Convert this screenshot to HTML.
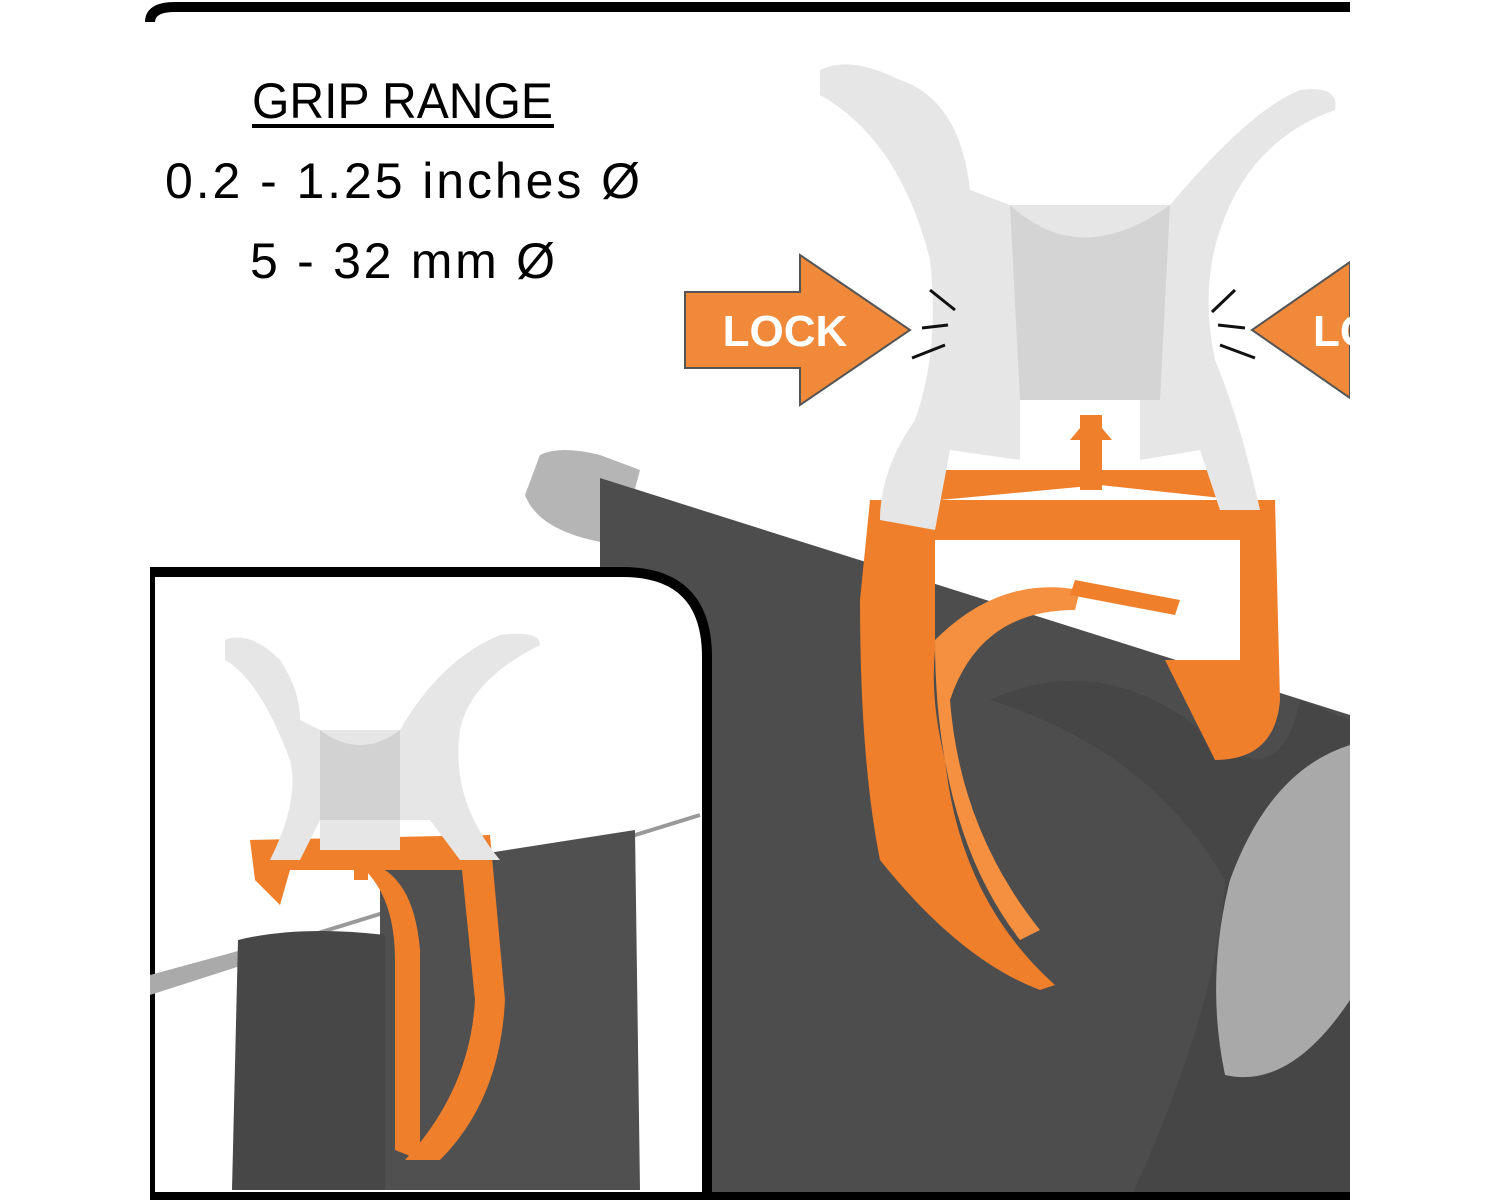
<!DOCTYPE html>
<html><head><meta charset="utf-8"><style>
html,body{margin:0;padding:0;background:#fff;}
svg{display:block;}
</style></head><body>
<svg width="1500" height="1200" viewBox="0 0 1500 1200" xmlns="http://www.w3.org/2000/svg">
<rect width="1500" height="1200" fill="#fff"/>
<defs><clipPath id="c"><rect x="150" y="0" width="1200" height="1200"/></clipPath></defs>
<g clip-path="url(#c)">
<!-- pole cap -->
<path d="M540 455 Q560 445 600 455 L640 470 L620 545 Q540 535 525 495 Z" fill="#b5b5b5"/>
<!-- big fabric -->
<path d="M600 478 L1350 715 L1350 1200 L600 1200 Z" fill="#4d4d4d"/>
<path d="M990 700 Q1100 650 1200 730 Q1280 800 1300 700 L1350 720 L1350 1200 L1130 1200 Q1220 1000 1225 880 Q1150 750 990 700 Z" fill="#464646"/>
<path d="M1230 880 Q1270 770 1350 745 L1350 1000 Q1290 1090 1225 1075 Q1205 980 1230 880 Z" fill="#a9a9a9"/>
<!-- big orange clip -->
<path d="M870 500 L1275 500 L1280 700 Q1275 760 1215 760 L1165 660 L1240 660 L1240 540 L935 540 L935 650 Q930 700 945 760 Q960 900 1055 985 L1040 990 Q960 960 880 860 Q860 760 860 600 Z" fill="#f07f2c"/>
<path d="M935 640 Q1000 575 1080 590 L1075 610 Q980 610 950 700 Q960 830 1040 930 L1020 940 Q935 830 935 640 Z" fill="#f59040"/>
<path d="M940 470 L1250 470 L1240 500 L1100 485 L940 500 Z" fill="#f07f2c"/>
<rect x="1080" y="415" width="22" height="75" fill="#f07f2c"/>
<path d="M1070 440 L1091 415 L1112 440 Z" fill="#f07f2c"/>
<path d="M1075 580 L1180 600 L1175 615 L1070 595 Z" fill="#f07f2c"/>
<!-- big white top -->
<path d="M820 70 Q850 55 900 80 Q960 100 970 190 L1010 205 L1170 205 Q1250 110 1300 90 Q1340 85 1335 110 Q1250 140 1220 230 Q1200 290 1215 360 Q1240 420 1260 510 L1220 510 L1200 450 L1140 460 L1140 400 L1020 400 L1020 460 L950 450 L935 530 L880 520 Q880 470 915 420 Q940 350 930 260 Q900 140 820 95 Z" fill="#e6e6e6"/>
<path d="M1010 205 Q1080 270 1170 205 L1160 400 L1020 400 Z" fill="#d4d4d4"/>
<!-- lock arrows -->
<path d="M685 292 L800 292 L800 255 L910 330 L800 405 L800 368 L685 368 Z" fill="#f08a3a" stroke="#555" stroke-width="2"/>
<text x="785" y="346" font-family="Liberation Sans, sans-serif" font-weight="bold" font-size="44" fill="#fff" text-anchor="middle">LOCK</text>
<path d="M1252 330 L1350 262 L1350 398 Z" fill="#f08a3a" stroke="#555" stroke-width="2"/>
<text x="1313" y="346" font-family="Liberation Sans, sans-serif" font-weight="bold" font-size="44" fill="#fff">LO</text>
<g stroke="#111" stroke-width="3"><line x1="930" y1="290" x2="955" y2="310"/><line x1="922" y1="328" x2="948" y2="325"/><line x1="912" y1="358" x2="945" y2="345"/><line x1="1235" y1="290" x2="1212" y2="312"/><line x1="1245" y1="328" x2="1218" y2="325"/><line x1="1255" y1="358" x2="1220" y2="345"/></g>
<!-- inset box -->
<path d="M150 572 L622 572 Q707 572 707 657 L707 1200 L150 1200 Z" fill="#fff" stroke="#000" stroke-width="10"/>
<line x1="150" y1="985" x2="700" y2="815" stroke="#999" stroke-width="4"/>
<path d="M150 975 L260 945 L265 958 L150 995 Z" fill="#aaa"/>
<path d="M380 870 L635 830 L640 1190 L380 1190 Z" fill="#505050"/>
<path d="M238 940 Q300 925 385 935 L385 1190 L232 1190 Z" fill="#474747"/>
<!-- small orange clip -->
<path d="M250 840 L490 835 L505 1000 Q500 1100 440 1160 L405 1160 Q470 1090 475 1000 L462 870 L290 870 L280 905 L255 880 Z" fill="#f07f2c"/>
<path d="M365 870 Q395 900 395 960 L395 1150 L420 1160 L420 950 Q415 890 385 870 Z" fill="#f07f2c"/>
<rect x="354" y="830" width="14" height="50" fill="#f07f2c"/>
<!-- small white top -->
<path d="M225 640 Q250 630 280 660 Q300 690 300 720 L320 730 L400 730 Q440 660 500 635 Q540 630 540 645 Q470 680 460 730 Q450 800 500 860 L460 860 L430 820 L400 820 L400 850 L320 850 L320 820 L300 860 L270 860 Q300 800 290 760 Q260 680 225 660 Z" fill="#e6e6e6"/>
<path d="M320 730 Q360 760 400 730 L400 820 L320 820 Z" fill="#d2d2d2"/>
</g>
<!-- frame lines -->
<path d="M150 22 Q150 7 175 7 L1350 7" fill="none" stroke="#000" stroke-width="10"/>
<line x1="150" y1="1196" x2="1350" y2="1196" stroke="#000" stroke-width="8"/>
<!-- text -->
<g font-family="Liberation Sans, DejaVu Sans, sans-serif" font-size="50" fill="#000">
<text x="252" y="118" textLength="301" lengthAdjust="spacingAndGlyphs">GRIP RANGE</text>
<text x="165" y="198" textLength="475" lengthAdjust="spacing">0.2 - 1.25 inches Ø</text>
<text x="250" y="278" textLength="305" lengthAdjust="spacing">5 - 32 mm Ø</text>
</g>
<rect x="252" y="124" width="302" height="4" fill="#000"/>
</svg>
</body></html>
